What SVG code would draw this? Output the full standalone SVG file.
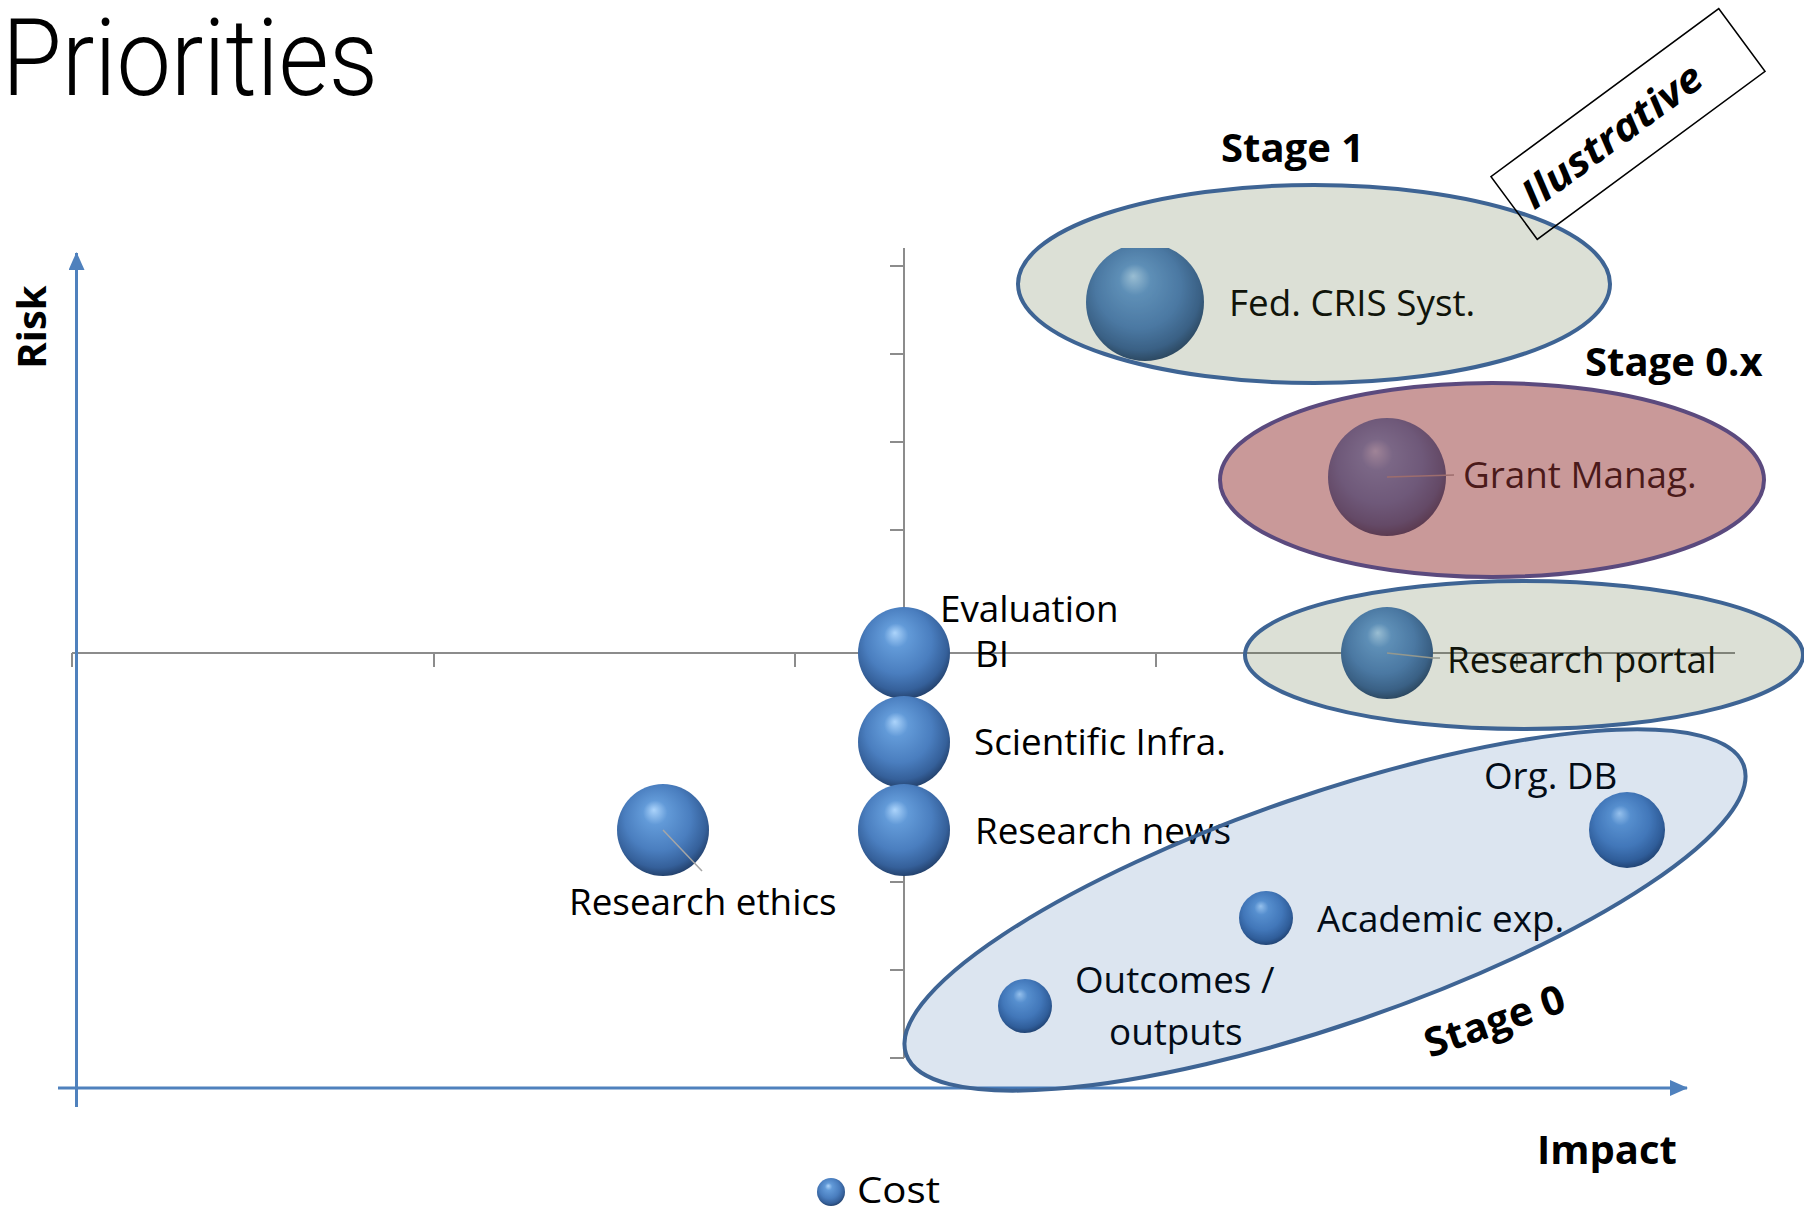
<svg xmlns="http://www.w3.org/2000/svg" width="1804" height="1211" viewBox="0 0 1804 1211">
<style>
  .lbl { font-family: 'Open Sans', 'Liberation Sans', sans-serif; font-size: 36.8px; fill: #000; }
  .bold { font-family: 'Open Sans', 'Liberation Sans', sans-serif; font-weight: bold; font-size: 40px; fill: #000; }
  .grid { stroke: #8c8c8c; stroke-width: 2; fill: none; }
  .axis { stroke: #4f81bd; stroke-width: 3; fill: none; }
  .lead { stroke: #a6a6a6; stroke-width: 1.5; fill: none; }
  .ball { fill: url(#ballGrad); }
  .ovl-green { fill: rgb(80,100,50); fill-opacity: 0.2; stroke: #3e6494; stroke-width: 4; }
  .ovl-red { fill: rgb(148,52,52); fill-opacity: 0.5; stroke: #5b4a7e; stroke-width: 4; }
  .ovl-blue { fill: rgb(22,82,155); fill-opacity: 0.15; stroke: #3e6494; stroke-width: 4; }
</style>
<defs>
  <radialGradient id="ballGrad" cx="0.47" cy="0.42" r="0.6" fx="0.4" fy="0.28">
    <stop offset="0" stop-color="#acd4fb"/>
    <stop offset="0.22" stop-color="#629ad8"/>
    <stop offset="0.6" stop-color="#4a7ebf"/>
    <stop offset="0.85" stop-color="#35609a"/>
    <stop offset="1" stop-color="#213d66"/>
  </radialGradient>
  <marker id="arr" markerUnits="userSpaceOnUse" markerWidth="18" markerHeight="16" refX="17" refY="8" orient="auto">
    <path d="M0,0 L18,8 L0,16 Z" fill="#4f81bd"/>
  </marker>
  <clipPath id="plotClip"><rect x="0" y="248" width="1804" height="963"/></clipPath>
</defs>
<rect width="1804" height="1211" fill="#fff"/>

<text x="2" y="95" font-family="Roboto, 'Open Sans', 'Liberation Sans', sans-serif" font-weight="300" font-size="107" textLength="376" lengthAdjust="spacingAndGlyphs" fill="#000">Priorities</text>

<g id="axes">
  <line class="grid" x1="72" y1="653" x2="1735" y2="653"/>
  <path class="grid" d="M72,653 v14 M434,653 v14 M795,653 v14 M1156,653 v14 M1517,653 v14"/>
  <line class="grid" x1="904" y1="248" x2="904" y2="1058"/>
  <path class="grid" d="M890,266 h14 M890,354 h14 M890,442 h14 M890,530 h14 M890,619 h14 M890,707 h14 M890,795 h14 M890,882 h14 M890,970 h14 M890,1058 h14"/>
  <line class="axis" x1="76.5" y1="1107" x2="76.5" y2="253" marker-end="url(#arr)"/>
  <line class="axis" x1="58" y1="1088" x2="1687" y2="1088" marker-end="url(#arr)"/>
  <text class="bold" transform="translate(46,327) rotate(-90)" text-anchor="middle">Risk</text>
  <text class="bold" x="1537" y="1164">Impact</text>
</g>

<g id="node-fed-cris">
  <circle class="ball" cx="1145" cy="302" r="59" clip-path="url(#plotClip)"/>
  <text class="lbl" x="1229" y="316">Fed. CRIS Syst.</text>
</g>
<g id="node-grant">
  <circle class="ball" cx="1387" cy="477" r="59"/>
  <text class="lbl" x="1463" y="488">Grant Manag.</text>
</g>
<g id="node-portal">
  <circle class="ball" cx="1387" cy="653" r="46"/>
  <text class="lbl" x="1447" y="673">Research portal</text>
</g>
<g id="node-evaluation">
  <circle class="ball" cx="904" cy="653" r="46"/>
  <text class="lbl" x="940" y="622">Evaluation</text>
  <text class="lbl" x="975" y="667">BI</text>
</g>
<g id="node-sci-infra">
  <circle class="ball" cx="904" cy="742" r="46"/>
  <text class="lbl" x="974" y="755">Scientific Infra.</text>
</g>
<g id="node-news">
  <circle class="ball" cx="904" cy="830" r="46"/>
  <text class="lbl" x="975" y="844">Research news</text>
</g>
<g id="node-ethics">
  <circle class="ball" cx="663" cy="830" r="46"/>
  <text class="lbl" x="569" y="915">Research ethics</text>
</g>
<g id="node-orgdb">
  <circle class="ball" cx="1627" cy="830" r="38"/>
  <text class="lbl" x="1484" y="789">Org. DB</text>
</g>
<g id="node-academic">
  <circle class="ball" cx="1266" cy="918" r="27"/>
  <text class="lbl" x="1317" y="932">Academic exp.</text>
</g>
<g id="node-outcomes">
  <circle class="ball" cx="1025" cy="1006" r="27"/>
  <text class="lbl" x="1075" y="993">Outcomes /</text>
  <text class="lbl" x="1109" y="1045">outputs</text>
</g>

<g id="connectors">
  <line class="lead" x1="663" y1="830" x2="702" y2="871"/>
  <line class="lead" x1="1387" y1="477" x2="1454" y2="475"/>
  <polyline class="lead" points="1387,653 1433,658 1440,658"/>
</g>

<g id="stage-1">
  <ellipse class="ovl-green" cx="1314" cy="284" rx="296" ry="99"/>
  <text class="bold" x="1221" y="162">Stage 1</text>
</g>
<g id="stage-0x">
  <ellipse class="ovl-red" cx="1492" cy="480" rx="272" ry="97"/>
  <text class="bold" x="1585" y="376">Stage 0.x</text>
</g>
<g id="stage-portal">
  <ellipse class="ovl-green" cx="1524" cy="655" rx="279" ry="74"/>
</g>
<g id="stage-0">
  <ellipse class="ovl-blue" cx="1325" cy="910" rx="443" ry="115" transform="rotate(-19 1325 910)"/>
  <text class="bold" transform="translate(1430,1058) rotate(-19)" font-size="41" textLength="146" lengthAdjust="spacingAndGlyphs">Stage 0</text>
</g>

<g id="illustrative" transform="translate(1628,124) rotate(-36.4)">
  <rect x="-141.5" y="-39" width="283" height="78" fill="none" stroke="#000" stroke-width="1.5"/>
  <text class="bold" x="-20" y="14" text-anchor="middle" font-style="italic" textLength="214" lengthAdjust="spacingAndGlyphs">Ilustrative</text>
</g>

<g id="legend">
  <circle class="ball" cx="831" cy="1192" r="14"/>
  <text class="lbl" x="857" y="1203" font-size="40" textLength="83" lengthAdjust="spacingAndGlyphs">Cost</text>
</g>
</svg>
